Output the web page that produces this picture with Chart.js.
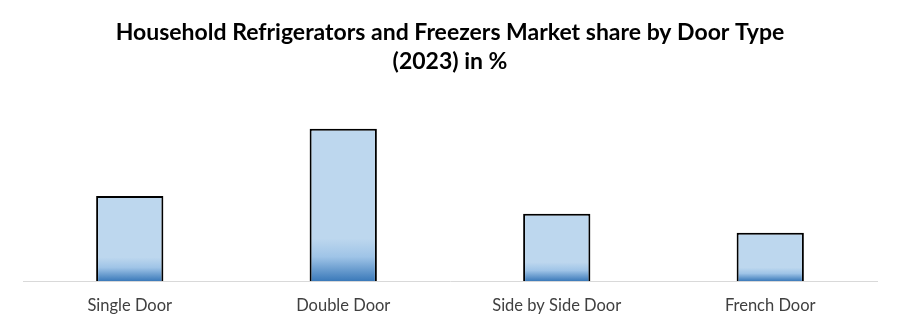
<!DOCTYPE html>
<html>
<head>
<meta charset="utf-8">
<script src="https://cdn.jsdelivr.net/npm/chart.js@4.4.1/dist/chart.umd.min.js"></script>
<style>
  html, body { margin: 0; padding: 0; background: #fff; }
  #wrap { width: 900px; height: 329px; }
</style>
</head>
<body>
<div id="wrap"><canvas id="shareChart"></canvas></div>
<script>
// Market share by door type (2023), in %
const doorTypes = ['Single Door', 'Double Door', 'Side by Side Door', 'French Door'];
const shareValues = [24, 43, 19, 13.7];

// bar fill: light blue, darkening towards the base of each bar
function barFill(context) {
    const chart = context.chart;
    if (!chart.chartArea) return '#bdd7ee';
    const yScale = chart.scales.y;
    const top = yScale.getPixelForValue(context.raw);
    const bottom = yScale.getPixelForValue(0);
    const g = chart.ctx.createLinearGradient(0, top, 0, bottom);
    g.addColorStop(0, '#bdd7ee');
    g.addColorStop(0.72, '#bdd7ee');
    g.addColorStop(0.84, '#9fc4e7');
    g.addColorStop(1, '#3a79b9');
    return g;
}

const ctx = document.getElementById('shareChart');
new Chart(ctx, {
    type: 'bar',
    data: {
        labels: doorTypes,
        datasets: [{
            data: shareValues,
            backgroundColor: barFill,
            borderColor: '#000',
            borderWidth: 2,
            borderSkipped: 'bottom',
            categoryPercentage: 1,
            barPercentage: 0.315
        }]
    },
    options: {
        responsive: true,
        maintainAspectRatio: false,
        animation: false,
        layout: { padding: { left: 23, right: 23, top: 0, bottom: 6 } },
        plugins: {
            legend: { display: false },
            tooltip: { enabled: false },
            title: {
                display: true,
                text: ['Household Refrigerators and Freezers Market share by Door Type', '(2023) in %'],
                color: '#000',
                font: { family: 'Lato', size: 23, weight: 'bold', lineHeight: 1.26 },
                padding: { top: 18, bottom: 28 }
            }
        },
        scales: {
            y: {
                display: false,
                min: 0,
                max: 50
            },
            x: {
                grid: { display: false },
                border: { display: true, color: '#d9d9d9', width: 1 },
                ticks: {
                    color: '#404040',
                    font: { family: 'Lato', size: 16.5 },
                    padding: 7
                }
            }
        }
    }
});
</script>
</body>
</html>
